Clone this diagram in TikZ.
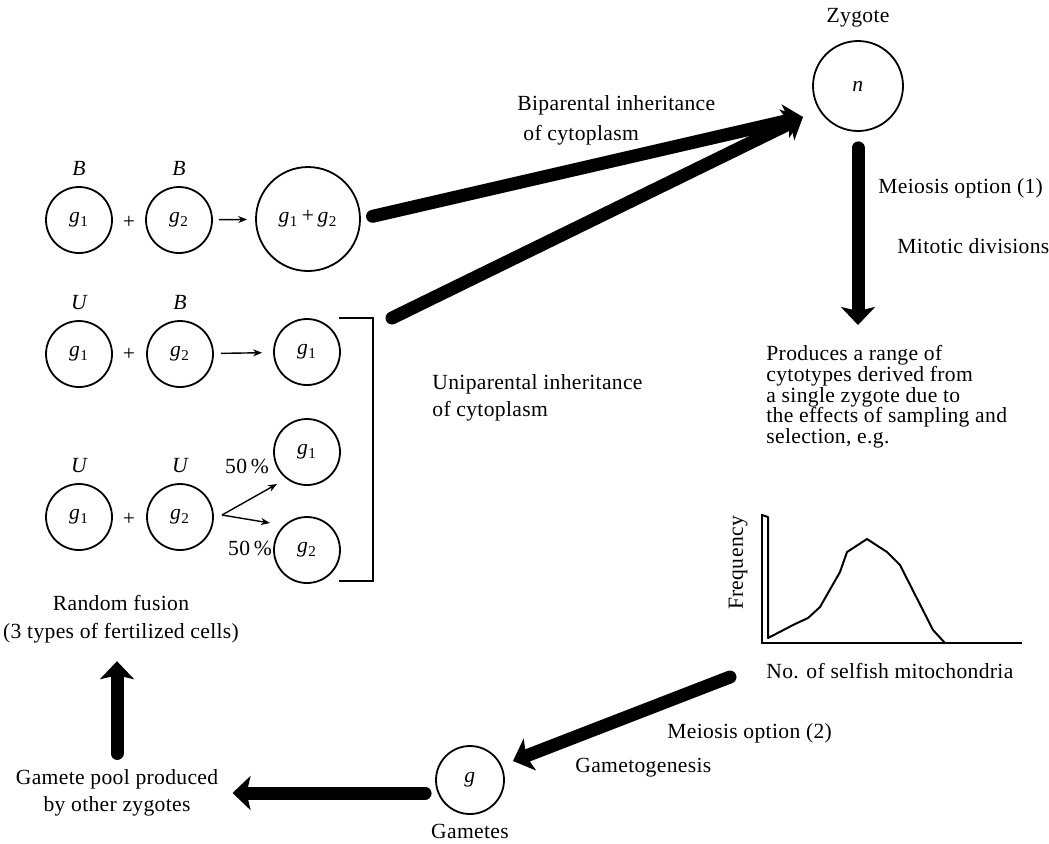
\documentclass[tikz,border=0pt]{standalone}
\usepackage{fontspec}
\setmainfont{Liberation Serif}[LetterSpace=1.5]
\usetikzlibrary{arrows.meta, positioning}
\newcommand{\gsub}[1]{\textit{g}\textsubscript{#1}}

\begin{document}
\begin{tikzpicture}[x=0.5pt, y=-0.5pt,
    every node/.style={font=\fontsize{10.8}{10.35}\selectfont, inner sep=0pt},
    cnode/.style={circle, draw, line width=0.9pt, minimum size=33pt},
    bnode/.style={circle, draw, line width=0.9pt, minimum size=52pt},
    znode/.style={circle, draw, line width=0.9pt, minimum size=45pt},
    lab/.style={font=\fontsize{10.8}{10.35}\selectfont\itshape, label distance=5pt},
    thin/.style={line width=0.7pt, -{Stealth[length=4.5pt, width=3.5pt]}},
    fat/.style={line width=6.5pt, line cap=round,
                -{Stealth[length=9pt, width=17pt, inset=2pt]}},
    >=Stealth
]
\useasboundingbox (0,0) rectangle (1049,843);

% --- row 1: B + B ---
\node[cnode, label={[lab]above:B}] (r1a) at (79,220) {\gsub{1}};
\node (r1p) at (129,222) {+};
\node[cnode, label={[lab]above:B}] (r1b) at (179,220) {\gsub{2}};
\node[bnode] (r1c) at (308,219) {\gsub{1}\,+\,\gsub{2}};
\draw[thin, shorten <=3pt, shorten >=4pt] (r1b) -- (r1c);

% --- row 2: U + B ---
\node[cnode, label={[lab]above:U}] (r2a) at (79,354) {\gsub{1}};
\node (r2p) at (129,354) {+};
\node[cnode, label={[lab]above:B}] (r2b) at (180,354) {\gsub{2}};
\node[cnode] (r2c) at (307,352) {\gsub{1}};
\draw[thin, shorten <=3.5pt, shorten >=5.5pt] (r2b) -- (r2c);

% --- row 3: U + U ---
\node[cnode, label={[lab]above:U}] (r3a) at (79,517) {\gsub{1}};
\node (r3p) at (129,519) {+};
\node[cnode, label={[lab]above:U}] (r3b) at (180,517) {\gsub{2}};
\node[cnode] (r3c) at (307,452) {\gsub{1}};
\node[cnode] (r3d) at (307,550) {\gsub{2}};
\node (pc1) at (247,466) {50\,\%};
\node (pc2) at (250,548) {50\,\%};
\coordinate (fork) at (222,515);
\coordinate (up) at (277,484);
\coordinate (dn) at (270,523);
\draw[thin] (fork) -- (up);
\draw[thin] (fork) -- (dn);

% bracket
\coordinate (brt) at (339,318);
\coordinate (brb) at (339,581);
\draw[line width=1pt] (brt) -- ++(34,0) |- (brb);

\node[align=left, anchor=north west] (unip) at (432,374)
  {Uniparental inheritance\\[3pt]of cytoplasm};
\node[align=left, anchor=north west] (bip) at (517,95)
  {Biparental inheritance\\[4.5pt]\hspace{3pt}of cytoplasm};

% --- zygote ---
\node[znode] (zyg) at (858,86) {\textit{n}};
\node (zlab) at (858,18) {Zygote};
\coordinate (zin) at (803,117);
\coordinate (bk) at (392,318);
\draw[fat, shorten <=6pt] (r1c.east) -- (zin);
\draw[fat] (bk) -- (zin);

\node[anchor=west] (mei1) at (878,188) {Meiosis option (1)};
\node[anchor=west] (mit) at (897,246) {Mitotic divisions};
\node[align=left, anchor=north west] (prod) at (766,345)
  {Produces a range of\\cytotypes derived from\\a single zygote due to\\the effects of sampling and\\selection, e.g.};
\draw[fat, shorten <=8pt, shorten >=10pt] (zyg.south) -- (zyg.south |- prod.north);

% --- histogram ---
\draw[line width=1pt] (762,514) |- (1022,643);
\draw[line width=1pt, line join=round] (762,515) -- (768,517) -- (768,638) -- (795,624)
  -- (808,618) -- (820,607) -- (840,572) -- (847,552) -- (867,539) -- (887,552)
  -- (900,565) -- (933,630) -- (945,643);
\node[rotate=90] (freq) at (738,563) {Frequency};
\node[anchor=west] (nosel) at (766,671) {No. of selfish mitochondria};

% --- gametes ---
\node[cnode, minimum size=34pt] (gam) at (470,780) {\textit{g}};
\node[below=4.5pt of gam] (gamlab) {Gametes};
\coordinate (gtail) at (730,677);
\coordinate (gin) at (513,761);
\draw[fat] (gtail) -- (gin);
\node[anchor=west] (mei2) at (667,733) {Meiosis option (2)};
\node[anchor=west] (gmg) at (575,768) {Gametogenesis};

% --- gamete pool / random fusion ---
\node[align=center] (pool) at (117,793) {Gamete pool produced\\[3pt]by other zygotes};
\node[align=center] (fusion) at (121,619) {Random fusion\\[3.5pt](3 types of fertilized cells)};
\draw[fat, shorten <=5pt, shorten >=7pt] (gam.west |- pool.east) -- (pool.east);
\draw[fat, shorten <=8pt, shorten >=9pt] (pool.north) -- (pool.north |- fusion.south);

\end{tikzpicture}
\end{document}
